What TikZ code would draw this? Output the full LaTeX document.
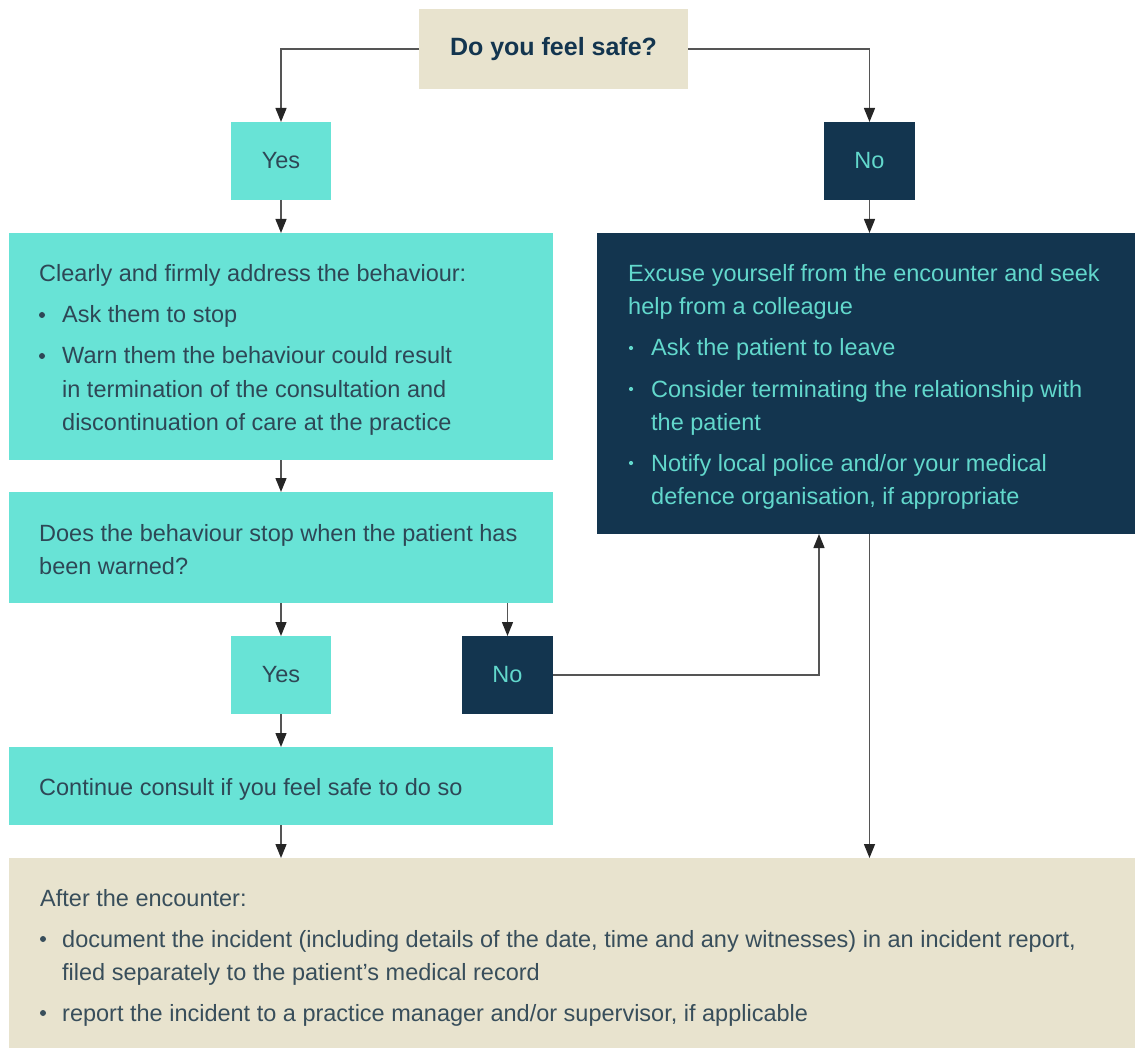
\documentclass[tikz,border=0pt]{standalone}
\usepackage{fontspec}
\setmainfont{Liberation Sans}
\usetikzlibrary{arrows.meta}
\definecolor{tealc}{HTML}{68E3D6}
\definecolor{navyc}{HTML}{13354F}
\definecolor{beigec}{HTML}{E8E3CE}
\definecolor{darktxt}{HTML}{2E4756}
\definecolor{tealtxt}{HTML}{62D8CC}
\definecolor{beigetxt}{HTML}{384E5B}
\definecolor{linec}{HTML}{555555}
\definecolor{headc}{HTML}{262626}
\begin{document}
\begin{tikzpicture}[x=1pt,y=-1pt,
  box/.style={inner sep=0pt,outer sep=0pt,draw=none,anchor=north west},
  tealbox/.style={box,fill=tealc},
  navybox/.style={box,fill=navyc},
  beigebox/.style={box,fill=beigec},
  lbl/.style={font=\fontsize{23.5}{28}\selectfont},
  dtxt/.style={lbl,inner sep=0pt,anchor=base west,text=darktxt},
  ntxt/.style={lbl,inner sep=0pt,anchor=base west,text=tealtxt},
  btxt/.style={lbl,inner sep=0pt,anchor=base west,text=beigetxt},
  arr/.style={draw=linec,line width=1.4pt,-{Triangle[length=14pt,width=11pt,color=headc]}},
]
\useasboundingbox (0,0) rectangle (1135,1048);

% boxes
\node[beigebox,minimum width=269pt,minimum height=80pt,text=navyc,font=\bfseries\fontsize{25}{30}\selectfont] (q) at (419,9) {Do you feel safe?};
\node[tealbox,minimum width=100pt,minimum height=78pt,lbl,text=darktxt] (yes1) at (231,122) {Yes};
\node[navybox,minimum width=91pt,minimum height=78pt,lbl,text=tealtxt] (no1) at (824,122) {No};
\node[tealbox,minimum width=544pt,minimum height=227pt] (b1) at (9,233) {};
\node[navybox,minimum width=538pt,minimum height=301pt] (nv) at (597,233) {};
\node[tealbox,minimum width=544pt,minimum height=111pt] (b2) at (9,492) {};
\node[tealbox,minimum width=100pt,minimum height=78pt,lbl,text=darktxt] (yes2) at (231,636) {Yes};
\node[navybox,minimum width=91pt,minimum height=78pt,lbl,text=tealtxt] (no2) at (462,636) {No};
\node[tealbox,minimum width=544pt,minimum height=78pt] (b3) at (9,747) {};
\node[beigebox,minimum width=1126pt,minimum height=190pt] (bg) at (9,858) {};
\coordinate (nvin) at (819,534);

% texts teal box 1
\node[dtxt] (t11) at (39,282) {Clearly and firmly address the behaviour:};
\node[dtxt] (t12) at (62,323) {Ask them to stop};
\node[dtxt] (t13) at (62,364) {Warn them the behaviour could result};
\node[dtxt] (t14) at (62,397) {in termination of the consultation and};
\node[dtxt] (t15) at (62,430) {discontinuation of care at the practice};
\fill[darktxt] (42,315) circle (3pt);
\fill[darktxt] (42,356) circle (3pt);

% navy box texts
\node[ntxt] (n1) at (628,282) {Excuse yourself from the encounter and seek};
\node[ntxt] (n2) at (628,315) {help from a colleague};
\node[ntxt] (n3) at (651,356) {Ask the patient to leave};
\node[ntxt] (n4) at (651,397) {Consider terminating the relationship with};
\node[ntxt] (n5) at (651,430) {the patient};
\node[ntxt] (n6) at (651,471) {Notify local police and/or your medical};
\node[ntxt] (n7) at (651,504) {defence organisation, if appropriate};
\fill[tealtxt] (631,348) circle (2.1pt);
\fill[tealtxt] (631,389) circle (2.1pt);
\fill[tealtxt] (631,463) circle (2.1pt);

% teal box 2 and 3
\node[dtxt] (t21) at (39,541) {Does the behaviour stop when the patient has};
\node[dtxt] (t22) at (39,574) {been warned?};
\node[dtxt] (t31) at (39,795) {Continue consult if you feel safe to do so};

% beige box
\node[btxt] (g1) at (40,906) {After the encounter:};
\node[btxt] (g2) at (62,947) {document the incident (including details of the date, time and any witnesses) in an incident report,};
\node[btxt] (g3) at (62,980) {filed separately to the patient’s medical record};
\node[btxt] (g4) at (62,1021) {report the incident to a practice manager and/or supervisor, if applicable};
\fill[beigetxt] (43,939) circle (3pt);
\fill[beigetxt] (43,1013) circle (3pt);

% connectors
\draw[arr] (q.west) -| (yes1.north);
\draw[arr] (q.east) -| (no1.north);
\draw[arr] (yes1.south) -- (b1.north);
\draw[arr] (no1.south) -- (no1.south |- nv.north);
\draw[arr] (b1.south) -- (b2.north);
\draw[arr] (b2.south) -- (yes2.north);
\draw[arr] (no2.north |- b2.south) -- (no2.north);
\draw[arr] (no2.east) -| (nvin);
\draw[arr] (yes2.south) -- (b3.north);
\draw[arr] (b3.south) -- (b3.south |- bg.north);
\draw[arr] (no1.south |- nv.south) -- (no1.south |- bg.north);
\end{tikzpicture}
\end{document}
